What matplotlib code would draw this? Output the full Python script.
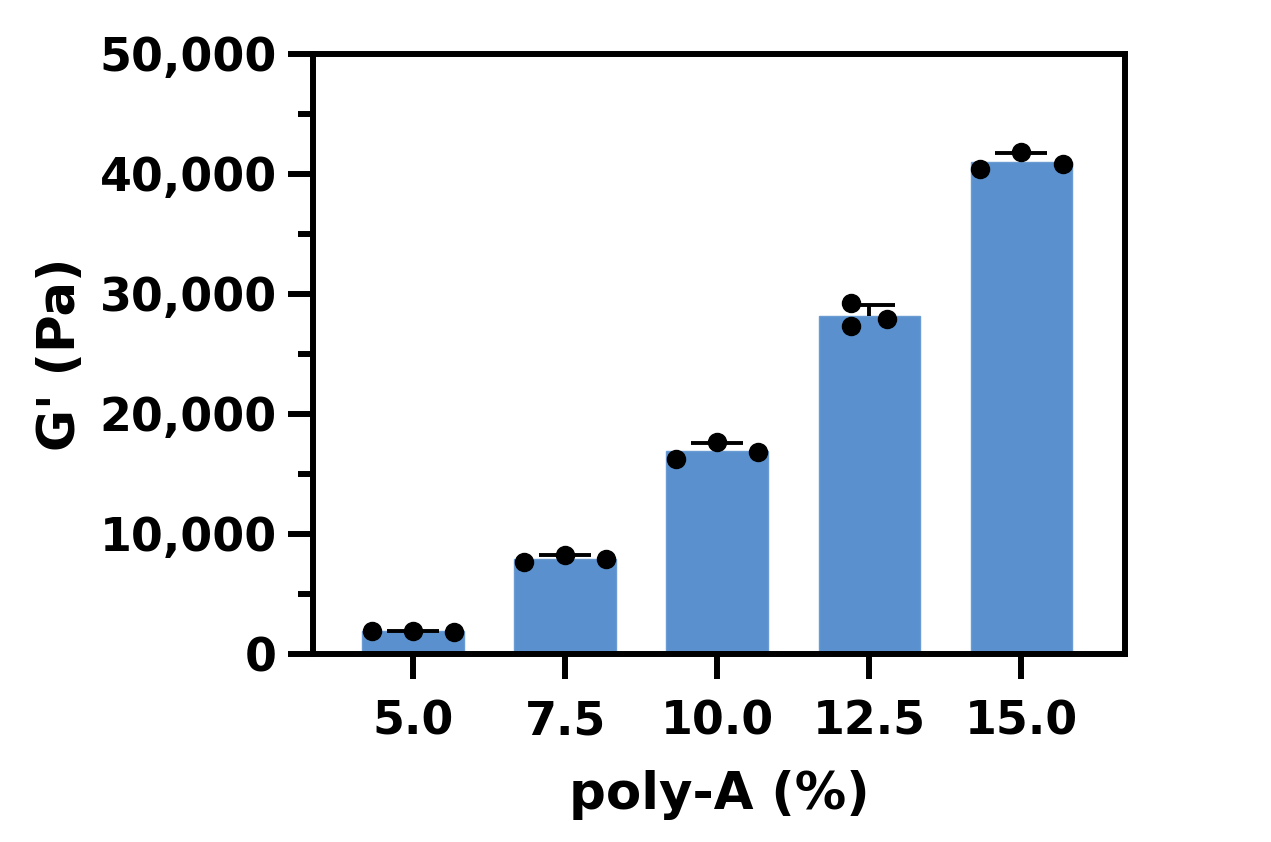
import numpy as np
import matplotlib
matplotlib.use('Agg')
import matplotlib.pyplot as plt
from matplotlib.ticker import FuncFormatter, MultipleLocator

plt.rcParams['font.family'] = ['DejaVu Sans']
plt.rcParams['font.weight'] = 'bold'

# data
conc_labels = ['5.0', '7.5', '10.0', '12.5', '15.0']
reps_5_0 = [1880, 1950, 1860]
reps_7_5 = [7640, 8250, 7890]
reps_10_0 = [16220, 17640, 16830]
reps_12_5 = [29220, 27360, 27920]
reps_15_0 = [40390, 41810, 40830]
replicates = [reps_5_0, reps_7_5, reps_10_0, reps_12_5, reps_15_0]

# horizontal scatter of the dots within each bar
dot_offsets = [[-0.27, 0.0, 0.27],
               [-0.27, 0.0, 0.27],
               [-0.27, 0.0, 0.27],
               [-0.12, -0.12, 0.115],
               [-0.27, 0.0, 0.27]]

means = [np.mean(r) for r in replicates]
sds = [np.std(r, ddof=1) for r in replicates]
x = np.arange(len(conc_labels))

fig = plt.figure(figsize=(12.71, 8.42), dpi=100)
ax = fig.add_axes([0.2463, 0.2233, 0.6387, 0.7126])

ax.bar(x, means, width=0.67, color='#5990cd', edgecolor='#6a9bd3',
       linewidth=1, zorder=2)
# upper half of the SD bar only
eb = ax.errorbar(x, means, yerr=[np.zeros(len(x)), sds], fmt='none',
                 ecolor='black', elinewidth=2.8, capsize=19, capthick=2.8,
                 zorder=3)
eb[1][0].set_visible(False)   # drop the cap sitting on the bar top
for xi, reps, offs in zip(x, replicates, dot_offsets):
    ax.plot(xi + np.array(offs), reps, 'o', color='black', ms=13,
            zorder=4, clip_on=False)

ax.set_xlim(-0.66, 4.68)
ax.set_ylim(0, 50000)
ax.yaxis.set_major_locator(MultipleLocator(10000))
ax.yaxis.set_minor_locator(MultipleLocator(5000))
ax.yaxis.set_major_formatter(FuncFormatter(lambda v, p: f'{v:,.0f}'))
ax.set_xticks(x)
ax.set_xticklabels(conc_labels)

for s in ax.spines.values():
    s.set_linewidth(4.3)
ax.tick_params(axis='both', which='major', direction='out', width=4.3,
               length=18, labelsize=33)
ax.tick_params(axis='y', which='minor', direction='out', width=4.3, length=11)
ax.tick_params(axis='y', which='major', pad=8)
ax.tick_params(axis='x', which='major', pad=15)

ax.set_xlabel('poly-A (%)', fontsize=37, fontweight='bold', labelpad=18)
ax.set_ylabel("G' (Pa)", fontsize=37, fontweight='bold', labelpad=10)

fig.savefig('out.png', dpi=100, facecolor='white')
